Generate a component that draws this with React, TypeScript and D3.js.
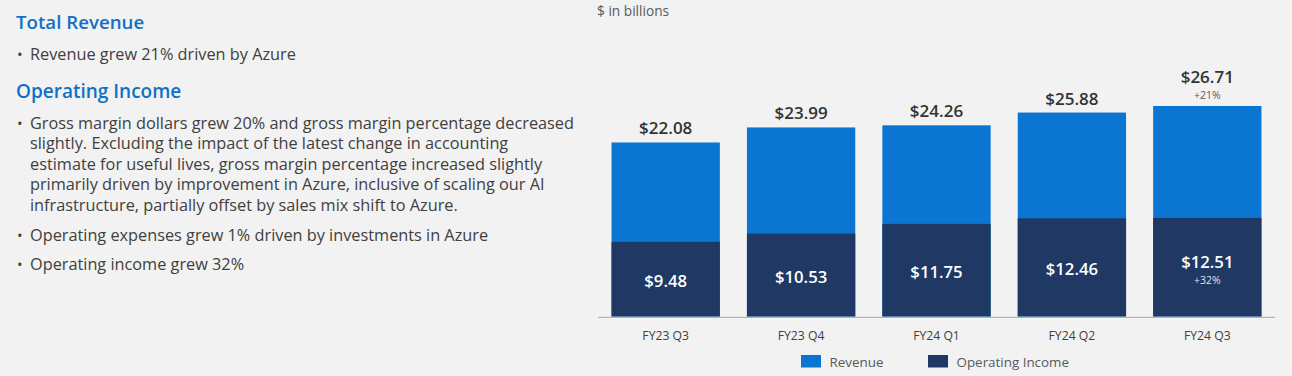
import React, { useEffect } from "react";
import * as d3 from "d3";

const categories = ["FY23 Q3", "FY23 Q4", "FY24 Q1", "FY24 Q2", "FY24 Q3"];
const revenue = [22.08, 23.99, 24.26, 25.88, 26.71];
const operatingIncome = [9.48, 10.53, 11.75, 12.46, 12.51];
const revenueGrowth = ["", "", "", "", "+21%"];
const incomeGrowth = ["", "", "", "", "+32%"];
const legendItems = ["Revenue", "Operating Income"];

const headings = ["Total Revenue", "Operating Income"];
const revenueBullets = [["Revenue grew 21% driven by Azure"]];
const incomeBullets = [
  [
    "Gross margin dollars grew 20% and gross margin percentage decreased",
    "slightly. Excluding the impact of the latest change in accounting",
    "estimate for useful lives, gross margin percentage increased slightly",
    "primarily driven by improvement in Azure, inclusive of scaling our AI",
    "infrastructure, partially offset by sales mix shift to Azure.",
  ],
  ["Operating expenses grew 1% driven by investments in Azure"],
  ["Operating income grew 32%"],
];

const W = 1292;
const H = 376;
const FONT = "'Open Sans', 'Noto Sans', sans-serif";
const BLUE = "#0a76d2";
const NAVY = "#203864";
const BG = "#f2f2f2";

export default function App() {
  useEffect(() => {
    document.body.style.margin = "0";
  }, []);

  const x = d3
    .scaleBand<string>()
    .domain(categories)
    .range([598, 1275])
    .paddingInner(0.2)
    .paddingOuter(0.1);
  const baseY = 316.5;
  const y = d3.scaleLinear().domain([0, 26.71]).range([baseY, 106]);

  const bodyColor = "#404040";
  const lineH = 20.6;
  const bodySize = 16.3;

  return (
    <svg width={W} height={H} style={{ display: "block", background: BG }} fontFamily={FONT}>
      <rect x={0} y={0} width={W} height={H} fill={BG} />
      {/* Left text panel */}
      <text x={16} y={29} fontSize={18.7} fontWeight={600} fill="#1170c6">
        {headings[0]}
      </text>
      {revenueBullets.map((b, i) => (
        <g key={"rb" + i}>
          <text x={17} y={59.5} fontSize={15} fill={bodyColor}>•</text>
          {b.map((l, j) => (
            <text key={j} x={30} y={59.5 + j * lineH} fontSize={bodySize} fill={bodyColor}>
              {l}
            </text>
          ))}
        </g>
      ))}
      <text x={16} y={98} fontSize={19} fontWeight={600} fill="#1170c6">
        {headings[1]}
      </text>
      {(() => {
        const starts = [128.5, 240.5, 269.5];
        return incomeBullets.map((b, i) => (
          <g key={"ib" + i}>
            <text x={17} y={starts[i]} fontSize={15} fill={bodyColor}>•</text>
            {b.map((l, j) => (
              <text key={j} x={30} y={starts[i] + j * lineH} fontSize={bodySize} fill={bodyColor}>
                {l}
              </text>
            ))}
          </g>
        ));
      })()}

      {/* Chart */}
      <text x={597} y={16} fontSize={13.7} fill="#595959">
        $ in billions
      </text>
      {categories.map((c, i) => {
        const bx = x(c)!;
        const bw = x.bandwidth();
        const cx = bx + bw / 2;
        const revTop = y(revenue[i]);
        const opTop = y(operatingIncome[i]);
        const mid = (opTop + baseY) / 2;
        const hasG = revenueGrowth[i] !== "";
        const hasIG = incomeGrowth[i] !== "";
        return (
          <g key={c}>
            <rect x={bx} y={revTop} width={bw} height={baseY - revTop} fill={BLUE} />
            <rect x={bx} y={opTop} width={bw} height={baseY - opTop} fill={NAVY} />
            <text
              x={cx}
              y={hasG ? revTop - 23.5 : revTop - 8}
              textAnchor="middle"
              fontSize={17}
              fontWeight={600}
              fill="#333"
            >
              ${revenue[i].toFixed(2)}
            </text>
            {hasG && (
              <text x={cx} y={revTop - 7} textAnchor="middle" fontSize={10.5} fill="#595959">
                {revenueGrowth[i]}
              </text>
            )}
            <text
              x={cx}
              y={hasIG ? mid + 0.7 : mid + 7.5}
              textAnchor="middle"
              fontSize={16.7}
              fontWeight={600}
              fill="#fff"
            >
              ${operatingIncome[i].toFixed(2)}
            </text>
            {hasIG && (
              <text x={cx} y={mid + 17} textAnchor="middle" fontSize={10.5} fill="#dfe4ee">
                {incomeGrowth[i]}
              </text>
            )}
            <text x={cx} y={339.5} textAnchor="middle" fontSize={12.2} fill="#404040">
              {c}
            </text>
          </g>
        );
      })}
      <line x1={598} x2={1275} y1={317.3} y2={317.3} stroke="#a6a6a6" strokeWidth={1} />

      {/* Legend */}
      {legendItems.map((l, i) => {
        const lx = [801, 928][i];
        return (
          <g key={l}>
            <rect x={lx} y={355} width={20} height={12.5} fill={i === 0 ? BLUE : NAVY} />
            <text x={lx + 28.5} y={366.5} fontSize={13.4} fill="#595959">
              {l}
            </text>
          </g>
        );
      })}
    </svg>
  );
}
